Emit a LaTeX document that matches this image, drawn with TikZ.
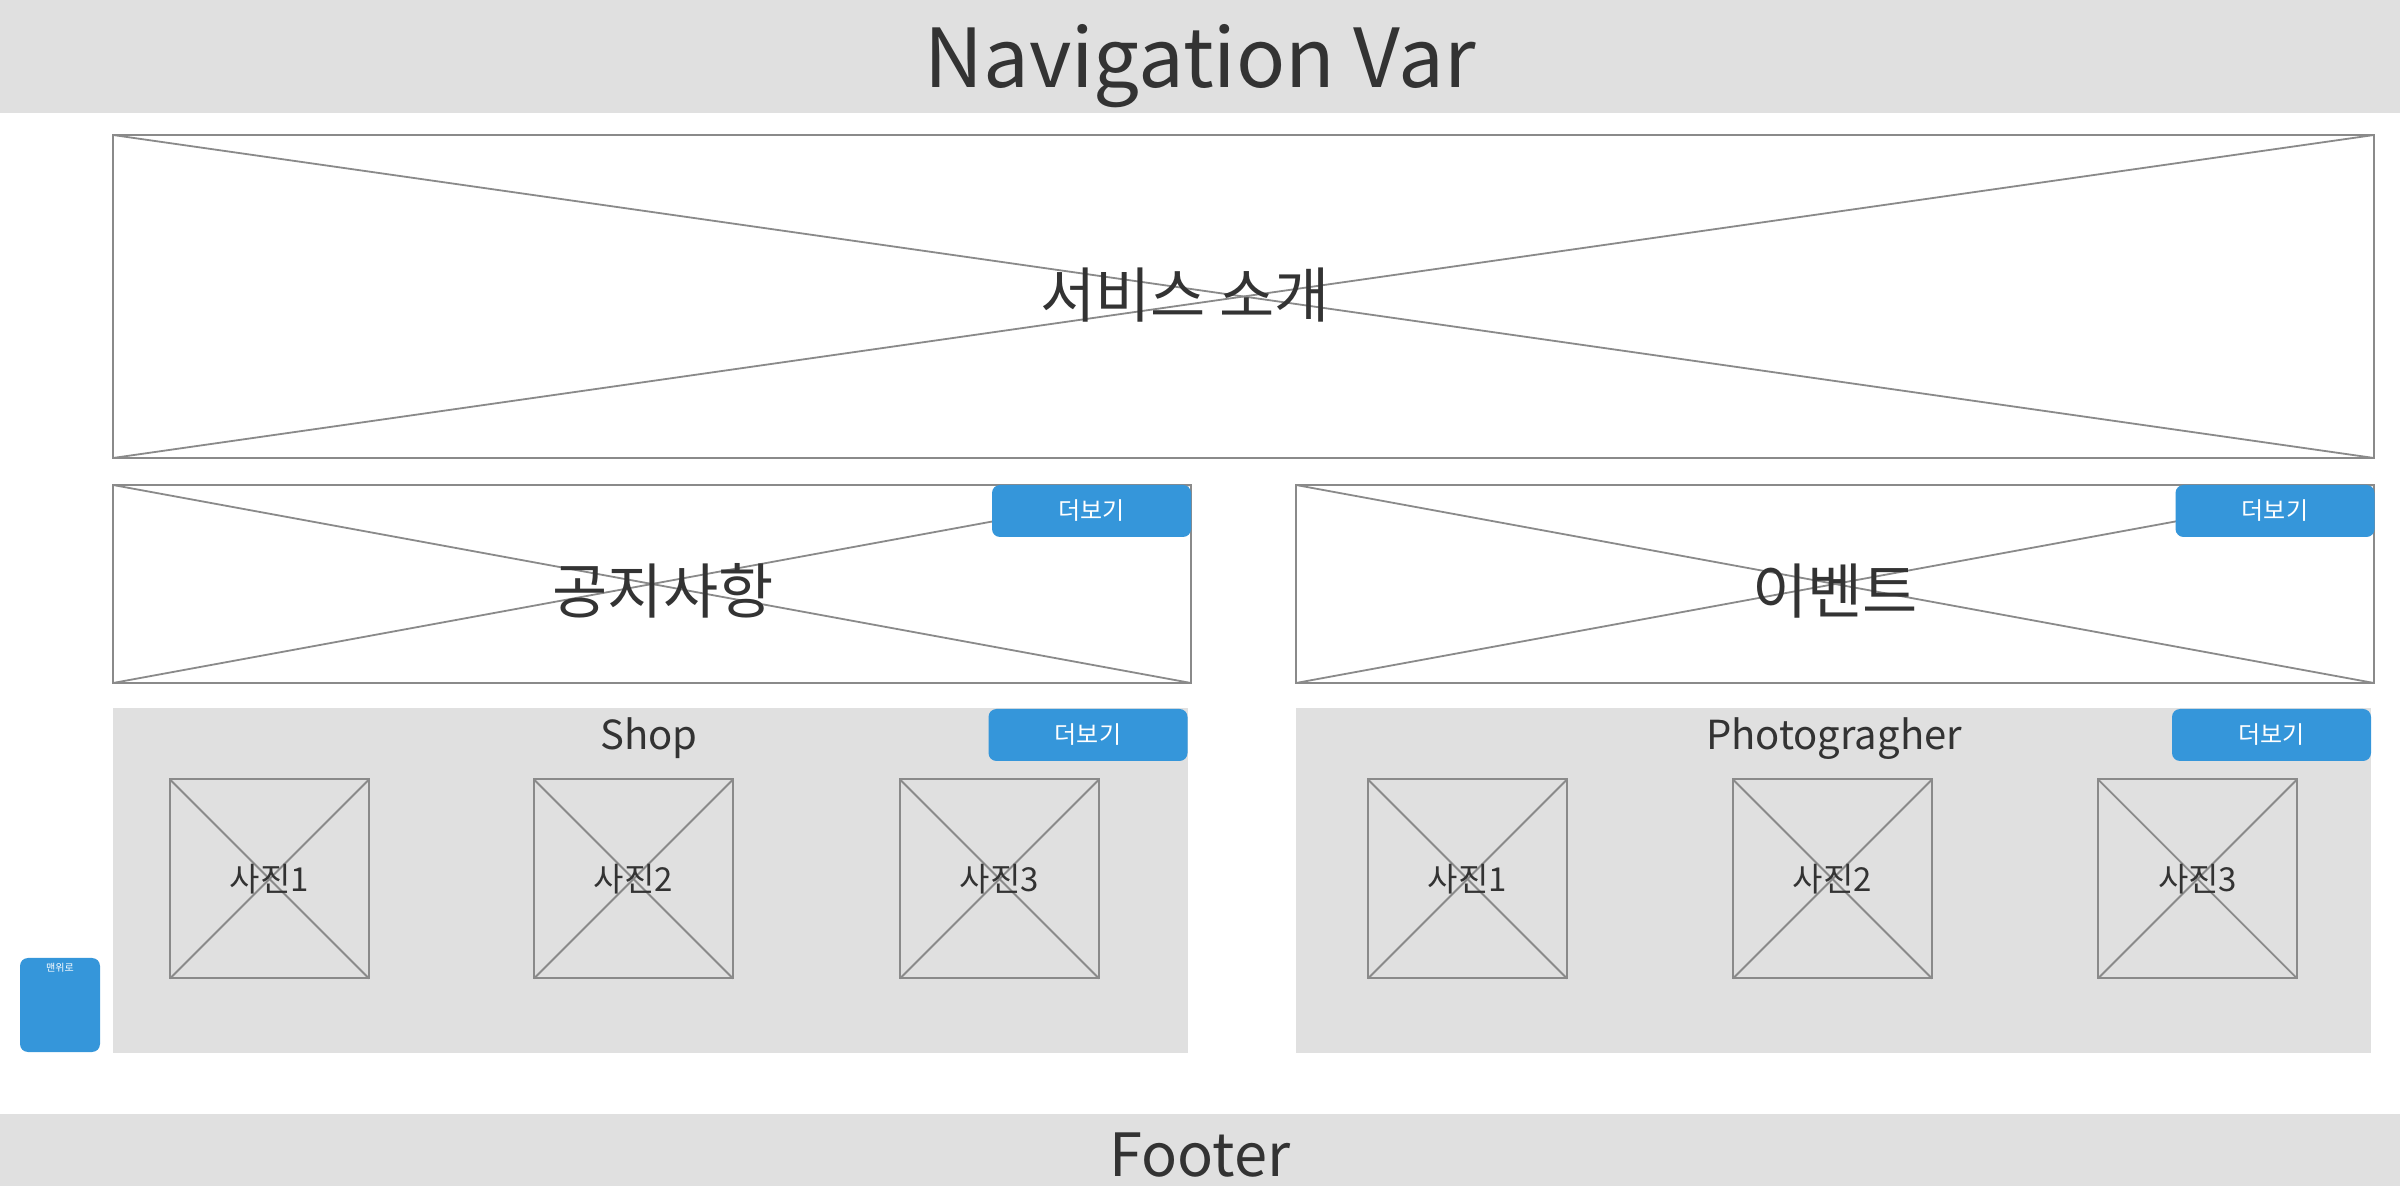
\documentclass[tikz,border=0pt]{standalone}
\usepackage{fontspec}
\setmainfont{Noto Sans CJK KR}
\definecolor{bargray}{HTML}{E0E0E0}
\definecolor{linegray}{HTML}{8A8A8A}
\definecolor{textgray}{HTML}{333333}
\definecolor{btnblue}{HTML}{3596DA}
\begin{document}
\begin{tikzpicture}
[x=0.5pt,y=-0.5pt,
graybar/.style={fill=bargray,draw=none,inner sep=0,outer sep=0},
wirebox/.style={draw=linegray,line width=1pt,fill=white,inner sep=0,outer sep=0},
photobox/.style={draw=linegray,line width=1pt,fill=bargray,inner sep=0,outer sep=0,minimum width=99.5pt,minimum height=99.5pt},
crossline/.style={linegray,line width=0.9pt},
morebtn/.style={fill=btnblue,draw=none,rounded corners=4pt,inner sep=0,minimum width=99.5pt,minimum height=26pt,text=white,font=\fontsize{12}{14}\selectfont},
bigtext/.style={text=textgray,inner sep=0,font=\fontsize{30}{34}\selectfont},
photolabel/.style={text=textgray,inner sep=0,font=\fontsize{16.5}{20}\selectfont}]

\useasboundingbox (0,0) rectangle (2400,1186);

% navigation bar
\node[graybar,minimum width=1200pt,minimum height=56.5pt](navbar) at (1200,56.5){};
\node[text=textgray,inner sep=0,anchor=base,font=\fontsize{40.7}{46}\selectfont](navtitle) at (1200,88){Navigation Var};

% service intro
\node[wirebox,minimum width=1130.5pt,minimum height=161.5pt](hero) at (1243.5,296.5){};
\draw[crossline] (hero.north west) -- (hero.south east);
\draw[crossline] (hero.south west) -- (hero.north east);
\node[bigtext](herotitle) at (1185,295){서비스 소개};

% notice
\node[wirebox,minimum width=539pt,minimum height=99pt](notice) at (652,584){};
\draw[crossline] (notice.north west) -- (notice.south east);
\draw[crossline] (notice.south west) -- (notice.north east);
\node[bigtext](noticetitle) at (663,591){공지사항};
\node[morebtn](noticemore) at (1091.5,511){더보기};

% event
\node[wirebox,minimum width=539pt,minimum height=99pt](event) at (1835,584){};
\draw[crossline] (event.north west) -- (event.south east);
\draw[crossline] (event.south west) -- (event.north east);
\node[bigtext](eventtitle) at (1835,591){이벤트};
\node[morebtn](eventmore) at (2275,511){더보기};

% shop
\node[graybar,minimum width=537.5pt,minimum height=172.5pt](shop) at (650.5,880.5){};
\node[text=textgray,inner sep=0,anchor=base,font=\fontsize{20}{24}\selectfont](shoptitle) at (649,750){Shop};
\node[morebtn](shopmore) at (1088,735){더보기};

\node[photobox](shopphotoa) at (269.5,879){};
\draw[crossline] (shopphotoa.north west) -- (shopphotoa.south east);
\draw[crossline] (shopphotoa.south west) -- (shopphotoa.north east);
\node[photolabel] at (shopphotoa){사진1};

\node[photobox](shopphotob) at (633.5,879){};
\draw[crossline] (shopphotob.north west) -- (shopphotob.south east);
\draw[crossline] (shopphotob.south west) -- (shopphotob.north east);
\node[photolabel] at (shopphotob){사진2};

\node[photobox](shopphotoc) at (999.5,879){};
\draw[crossline] (shopphotoc.north west) -- (shopphotoc.south east);
\draw[crossline] (shopphotoc.south west) -- (shopphotoc.north east);
\node[photolabel] at (shopphotoc){사진3};

% photographer
\node[graybar,minimum width=537.5pt,minimum height=172.5pt](photographer) at (1833.5,880.5){};
\node[text=textgray,inner sep=0,anchor=base,font=\fontsize{20}{24}\selectfont](phototitle) at (1834,750){Photogragher};
\node[morebtn](photomore) at (2271.5,735){더보기};

\node[photobox](pgphotoa) at (1467.5,879){};
\draw[crossline] (pgphotoa.north west) -- (pgphotoa.south east);
\draw[crossline] (pgphotoa.south west) -- (pgphotoa.north east);
\node[photolabel] at (pgphotoa){사진1};

\node[photobox](pgphotob) at (1832.5,879){};
\draw[crossline] (pgphotob.north west) -- (pgphotob.south east);
\draw[crossline] (pgphotob.south west) -- (pgphotob.north east);
\node[photolabel] at (pgphotob){사진2};

\node[photobox](pgphotoc) at (2197.5,879){};
\draw[crossline] (pgphotoc.north west) -- (pgphotoc.south east);
\draw[crossline] (pgphotoc.south west) -- (pgphotoc.north east);
\node[photolabel] at (pgphotoc){사진3};

% back to top
\node[fill=btnblue,rounded corners=4pt,inner sep=0,minimum width=40pt,minimum height=47pt](topbtn) at (60,1005){};
\node[text=white,inner sep=0,font=\fontsize{5}{6}\selectfont](toplabel) at (60,968){맨위로};

% footer
\node[graybar,minimum width=1200pt,minimum height=36pt](footer) at (1200,1150){};
\node[text=textgray,inner sep=0,anchor=base,font=\fontsize{29.8}{34}\selectfont](footertitle) at (1200,1176){Footer};

\end{tikzpicture}
\end{document}
